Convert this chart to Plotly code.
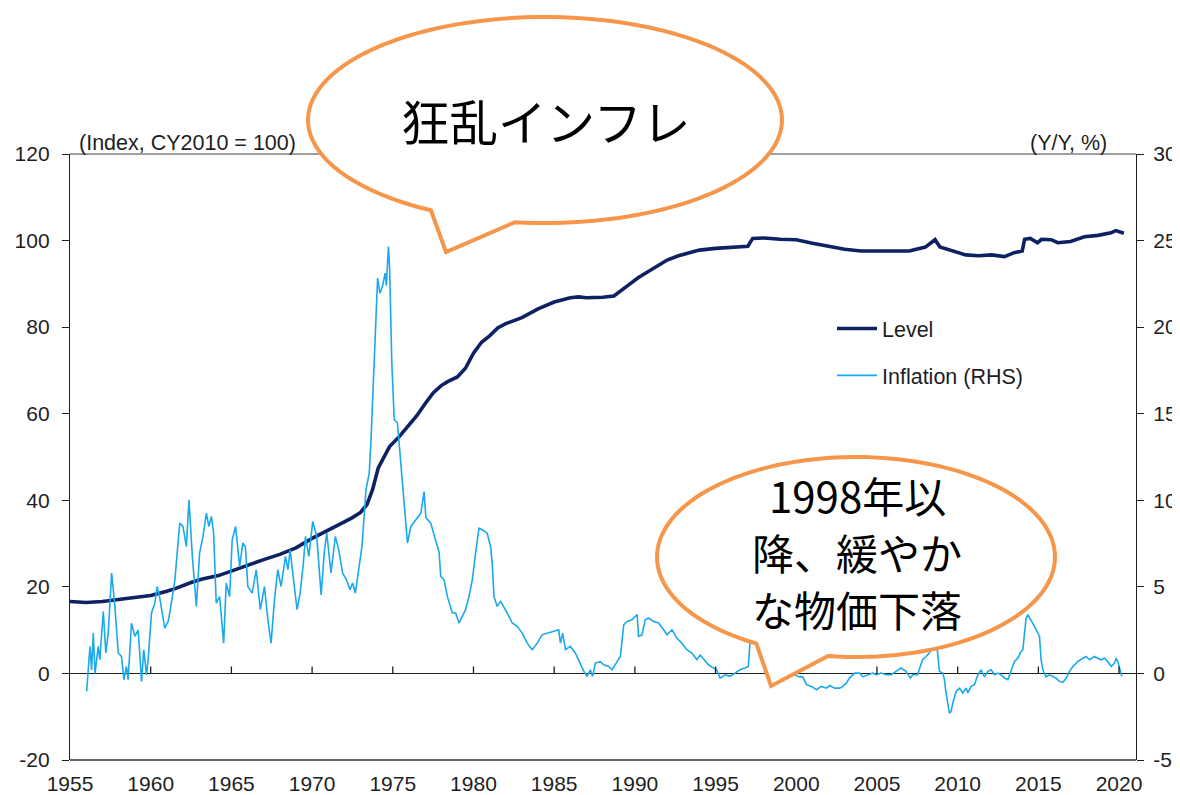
import math
import plotly.graph_objects as go

# ---------------- data ----------------
level_year = [1955.0, 1956.0, 1957.0, 1958.0, 1958.9, 1960.0, 1961.0, 1961.6, 1962.5, 1963.2,
              1964.2, 1965.2, 1966.0, 1967.0, 1968.0, 1969.0, 1970.0, 1971.0, 1972.0, 1972.5,
              1973.0, 1973.4, 1973.75, 1974.1, 1974.5, 1974.8, 1975.4, 1976.0, 1976.5, 1977.0,
              1977.5, 1978.0, 1978.4, 1979.0, 1979.5, 1980.0, 1980.5, 1981.0, 1981.5, 1982.0,
              1983.0, 1984.0, 1985.0, 1986.0, 1986.5, 1987.0, 1988.0, 1988.7, 1989.3, 1989.7,
              1990.2, 1990.7, 1991.5, 1992.0, 1992.7, 1993.3, 1994.0, 1995.0, 1996.0, 1997.0,
              1997.3, 1998.0, 1999.0, 2000.0, 2001.0, 2002.0, 2003.0, 2004.0, 2005.0, 2006.0,
              2007.0, 2008.0, 2008.6, 2008.9, 2009.7, 2010.5, 2011.3, 2012.1, 2012.9, 2013.5,
              2014.0, 2014.15, 2014.5, 2014.95, 2015.2, 2015.8, 2016.2, 2017.0, 2017.85, 2018.7,
              2019.5, 2019.8, 2020.3]
level_value = [16.6, 16.4, 16.6, 17.0, 17.4, 18.0, 19.0, 19.7, 21.0, 21.8,
               22.6, 24.0, 25.0, 26.3, 27.5, 29.0, 31.2, 33.0, 35.0, 36.0,
               37.2, 39.0, 42.5, 47.5, 50.5, 52.4, 54.7, 57.5, 59.6, 62.3,
               64.8, 66.5, 67.4, 68.5, 70.5, 74.0, 76.5, 78.0, 79.8, 80.8,
               82.2, 84.2, 85.8, 86.8, 87.0, 86.8, 86.9, 87.2, 89.0, 90.0,
               91.4, 92.6, 94.4, 95.5, 96.5, 97.2, 97.8, 98.2, 98.4, 98.7,
               100.5, 100.6, 100.3, 100.2, 99.4, 98.7, 98.0, 97.6, 97.6, 97.8,
               97.6, 98.5, 100.2, 98.5, 97.5, 96.7, 96.5, 96.7, 96.3, 97.2,
               97.6, 100.3, 100.5, 99.5, 100.3, 100.2, 99.5, 99.8, 100.9, 101.2,
               101.8, 102.3, 101.7]

infl_year = [1956.03, 1956.24, 1956.34, 1956.44, 1956.55, 1956.75, 1956.85, 1957.06, 1957.22, 1957.37,
             1957.58, 1957.78, 1957.99, 1958.19, 1958.34, 1958.5, 1958.6, 1958.81, 1959.02, 1959.22,
             1959.32, 1959.43, 1959.57, 1959.74, 1959.84, 1960.05, 1960.26, 1960.4, 1960.55, 1960.87,
             1961.08, 1961.18, 1961.49, 1961.8, 1962.0, 1962.21, 1962.37, 1962.58, 1962.83, 1963.03,
             1963.24, 1963.45, 1963.6, 1963.76, 1963.9, 1964.06, 1964.27, 1964.52, 1964.68, 1964.89,
             1965.05, 1965.26, 1965.51, 1965.71, 1965.87, 1966.02, 1966.29, 1966.54, 1966.79, 1967.05,
             1967.26, 1967.46, 1967.67, 1967.87, 1968.08, 1968.35, 1968.5, 1968.64, 1968.85, 1969.07,
             1969.26, 1969.46, 1969.59, 1969.8, 1970.04, 1970.29, 1970.56, 1970.77, 1970.91, 1971.17,
             1971.44, 1971.65, 1971.89, 1972.13, 1972.35, 1972.51, 1972.68, 1972.88, 1973.09, 1973.34,
             1973.54, 1973.65, 1973.85, 1974.06, 1974.2, 1974.36, 1974.53, 1974.6, 1974.73, 1974.8,
             1974.94, 1975.09, 1975.29, 1975.5, 1975.65, 1975.8, 1975.91, 1976.12, 1976.43, 1976.74,
             1976.94, 1977.05, 1977.35, 1977.66, 1977.87, 1977.97, 1978.18, 1978.38, 1978.69, 1978.9,
             1979.1, 1979.31, 1979.51, 1979.72, 1979.93, 1980.13, 1980.34, 1980.54, 1980.85, 1981.06,
             1981.16, 1981.27, 1981.47, 1981.68, 1981.88, 1982.09, 1982.4, 1982.71, 1983.02, 1983.33,
             1983.64, 1983.95, 1984.25, 1984.66, 1985.08, 1985.28, 1985.39, 1985.53, 1985.7, 1986.0,
             1986.31, 1986.62, 1986.83, 1987.03, 1987.24, 1987.38, 1987.55, 1987.86, 1988.07, 1988.38,
             1988.59, 1988.9, 1989.1, 1989.31, 1989.52, 1989.82, 1990.03, 1990.14, 1990.23, 1990.44,
             1990.64, 1990.85, 1991.16, 1991.47, 1991.78, 1991.99, 1992.3, 1992.6, 1992.91, 1993.22,
             1993.53, 1993.84, 1994.05, 1994.31, 1994.56, 1994.87, 1995.07, 1995.28, 1995.59, 1995.9,
             1996.2, 1996.51, 1996.82, 1997.03, 1997.13, 1997.24, 1997.6, 1998.0, 1998.25, 1998.6,
             1999.0, 1999.5, 1999.9, 2000.2, 2000.4, 2000.63, 2000.94, 2001.25, 2001.56, 2001.87,
             2002.07, 2002.38, 2002.69, 2002.89, 2003.1, 2003.3, 2003.61, 2003.92, 2004.12, 2004.43,
             2004.74, 2004.95, 2005.26, 2005.57, 2005.87, 2006.18, 2006.49, 2006.8, 2007.07, 2007.21,
             2007.52, 2007.68, 2007.83, 2008.04, 2008.24, 2008.45, 2008.6, 2008.7, 2008.87, 2009.08,
             2009.18, 2009.28, 2009.49, 2009.59, 2009.7, 2009.9, 2010.11, 2010.32, 2010.52, 2010.63,
             2010.83, 2011.04, 2011.25, 2011.45, 2011.66, 2011.87, 2012.07, 2012.28, 2012.49, 2012.69,
             2012.9, 2013.11, 2013.31, 2013.52, 2013.73, 2013.93, 2014.04, 2014.14, 2014.24, 2014.35,
             2014.55, 2014.76, 2015.07, 2015.17, 2015.28, 2015.48, 2015.69, 2015.9, 2016.1, 2016.31,
             2016.52, 2016.72, 2016.93, 2017.14, 2017.45, 2017.76, 2017.96, 2018.17, 2018.48, 2018.68,
             2018.89, 2019.1, 2019.3, 2019.51, 2019.72, 2019.82, 2019.92, 2020.03, 2020.17]
infl_value = [-1.04, 1.56, 0.2, 2.33, 0.0, 1.56, 0.79, 3.58, 1.18, 2.33,
              5.8, 3.87, 1.18, 0.98, -0.36, 0.4, -0.36, 2.9, 2.14, 2.5,
              1.18, -0.46, 1.37, -0.08, 0.79, 3.49, 4.06, 5.02, 4.44, 2.62,
              3.0, 3.49, 5.31, 8.68, 8.49, 7.33, 10.03, 6.76, 3.87, 6.95,
              7.91, 9.26, 8.49, 9.07, 8.1, 4.06, 4.44, 1.75, 5.22, 4.44,
              7.72, 8.49, 6.18, 7.53, 7.3, 5.02, 4.64, 5.99, 3.68, 5.02,
              3.1, 1.75, 4.26, 5.99, 5.02, 6.76, 5.99, 7.14, 5.41, 3.68,
              4.64, 6.37, 7.91, 6.76, 8.78, 7.91, 4.54, 7.14, 8.1, 5.8,
              7.91, 7.14, 5.8, 5.41, 4.83, 5.22, 4.64, 5.99, 7.33, 10.6,
              11.57, 13.49, 17.92, 22.83, 21.96, 22.35, 23.12, 22.4, 24.65, 23.5,
              17.92, 14.65, 14.46, 12.15, 10.5, 8.6, 7.53, 8.49, 8.9, 9.26,
              10.5, 9.0, 8.68, 7.72, 7.0, 5.6, 5.41, 4.45, 3.49, 3.49,
              2.91, 3.3, 3.68, 4.45, 5.41, 6.95, 8.39, 8.3, 8.1, 7.33,
              6.37, 4.45, 3.87, 4.16, 3.87, 3.49, 2.91, 2.72, 2.33, 1.75,
              1.37, 1.75, 2.23, 2.33, 2.43, 2.52, 1.75, 2.33, 1.37, 1.56,
              1.18, 0.5, 0.13, -0.17, 0.21, -0.17, 0.6, 0.68, 0.5, 0.4,
              0.21, 0.68, 0.98, 2.81, 3.0, 3.1, 3.3, 3.4, 2.14, 2.23,
              3.1, 3.2, 3.0, 2.91, 2.52, 2.23, 2.52, 2.04, 1.75, 1.37,
              1.18, 0.79, 1.06, 0.79, 0.5, 0.31, 0.21, -0.27, -0.08, -0.17,
              0.02, 0.21, 0.31, 0.4, 1.75, 1.85, 2.0, 1.9, 0.4, -0.1,
              0.0, -0.1, -0.08, -0.2, -0.2, -0.65, -0.75, -0.94, -0.75, -0.85,
              -0.7, -0.85, -0.85, -0.75, -0.56, -0.27, 0.02, 0.02, -0.2, -0.08,
              0.02, -0.08, 0.02, -0.08, -0.08, 0.12, 0.31, 0.12, -0.27, -0.08,
              -0.08, 0.4, 0.79, 0.98, 1.18, 1.56, 2.0, 1.75, 0.12, 0.02,
              -0.36, -1.13, -2.29, -2.2, -1.71, -1.04, -0.85, -1.13, -0.85, -1.13,
              -0.75, -0.65, -0.08, 0.21, -0.2, 0.12, 0.21, -0.08, 0.02, -0.08,
              -0.27, -0.36, 0.21, 0.69, 0.88, 1.27, 1.37, 2.33, 3.2, 3.39,
              3.1, 2.72, 2.14, 0.79, 0.21, -0.2, -0.08, -0.2, -0.27, -0.46,
              -0.52, -0.27, 0.12, 0.4, 0.69, 0.88, 0.98, 0.79, 0.98, 0.88,
              0.79, 0.88, 0.69, 0.4, 0.6, 0.88, 0.69, 0.31, -0.17]

x_tick_years = [1955, 1960, 1965, 1970, 1975, 1980, 1985, 1990, 1995, 2000, 2005, 2010, 2015, 2020]
left_ticks = [-20, 0, 20, 40, 60, 80, 100, 120]
right_ticks = [-5, 0, 5, 10, 15, 20, 25, 30]
bubble2_lines = ["1998年以", "降、緩やか", "な物価下落"]

NAVY = "#0E2263"
SKY = "#19A9EC"
ORANGE = "#F5964A"
TXT = "#1e1e1e"
LATIN = "Liberation Sans, Arial, sans-serif"
CJK = "Noto Sans CJK JP, sans-serif"

# Page layout (screen pixels); the page body adds an 8 px offset.
OFF = 8
SCREEN_W, SCREEN_H = 1180, 795
PLOT_X0, PLOT_X1, PLOT_Y0, PLOT_Y1 = 70, 1136, 154, 760
W, H = SCREEN_W - OFF, SCREEN_H - OFF
L, R = PLOT_X0 - OFF, SCREEN_W - PLOT_X1
T, B = PLOT_Y0 - OFF, SCREEN_H - PLOT_Y1
PW, PH = PLOT_X1 - PLOT_X0, PLOT_Y1 - PLOT_Y0


def px_to_paper(px, py):
    return (px - PLOT_X0) / PW, (PLOT_Y1 - py) / PH


def bubble_path(cx, cy, rx, ry, base_a, tip, base_b, n=120):
    """Speech-bubble outline (ellipse + tail) in paper coordinates, given in screen pixels."""
    ta = math.atan2((base_a[1] - cy) / ry, (base_a[0] - cx) / rx)
    tb = math.atan2((base_b[1] - cy) / ry, (base_b[0] - cx) / rx)
    end = ta - 2 * math.pi if ta > tb else ta
    pts = []
    for i in range(n + 1):
        t = tb + (end - tb) * i / n
        pts.append(px_to_paper(cx + rx * math.cos(t), cy + ry * math.sin(t)))
    pts.append(px_to_paper(*tip))
    return "M " + " L ".join(f"{x:.5f},{y:.5f}" for x, y in pts) + " Z"


fig = go.Figure()
fig.add_trace(go.Scatter(x=level_year, y=level_value, name="Level", mode="lines",
                         line=dict(color=NAVY, width=3.6), yaxis="y", legendgroup="a"))
fig.add_trace(go.Scatter(x=infl_year, y=infl_value, name="Inflation (RHS)", mode="lines",
                         line=dict(color=SKY, width=1.6), yaxis="y2", legendgroup="b"))

shapes = [
    dict(type="line", xref="paper", yref="paper", x0=0, x1=1, y0=1, y1=1,
         line=dict(color="#808080", width=1.3)),
    dict(type="line", xref="paper", yref="paper", x0=0, x1=1, y0=0, y1=0,
         line=dict(color="#333333", width=1.5)),
]
for yr in x_tick_years[1:]:
    shapes.append(dict(type="line", xref="x", yref="y", x0=yr, x1=yr, y0=0, y1=1.6,
                       line=dict(color=TXT, width=1.3)))
shapes.append(dict(type="path", xref="paper", yref="paper", layer="above",
                   path=bubble_path(545, 120, 237, 103, (430, 211), (446, 252), (515, 222)),
                   fillcolor="white", line=dict(color=ORANGE, width=4)))
shapes.append(dict(type="path", xref="paper", yref="paper", layer="above",
                   path=bubble_path(856, 557, 199, 100, (757, 643), (771, 686), (828, 656)),
                   fillcolor="white", line=dict(color=ORANGE, width=4)))

annotations = [
    dict(text="(Index, CY2010 = 100)", xref="paper", yref="paper", x=px_to_paper(77, 0)[0],
         y=px_to_paper(0, 143)[1], xanchor="left", yanchor="middle", showarrow=False,
         font=dict(family=LATIN, size=21.5, color=TXT)),
    dict(text="(Y/Y, %)", xref="paper", yref="paper", x=px_to_paper(1109, 0)[0],
         y=px_to_paper(0, 143)[1], xanchor="right", yanchor="middle", showarrow=False,
         font=dict(family=LATIN, size=21.5, color=TXT)),
    dict(text="狂乱インフレ", xref="paper", yref="paper", x=px_to_paper(546, 0)[0],
         y=px_to_paper(0, 120)[1], xanchor="center", yanchor="middle", showarrow=False,
         font=dict(family=CJK, size=48.5, color="black")),
]
for line_text, line_y in zip(bubble2_lines, [494, 551, 608]):
    annotations.append(dict(text=line_text, xref="paper", yref="paper",
                            x=px_to_paper(857, 0)[0], y=px_to_paper(0, line_y)[1],
                            xanchor="center", yanchor="middle", showarrow=False,
                            font=dict(family=CJK, size=42, color="black")))

tick_font = dict(family=LATIN, size=21, color=TXT)

fig.update_layout(
    template="none",
    width=W, height=H, autosize=False,
    margin=dict(l=L, r=R, t=T, b=B, pad=0, autoexpand=False),
    paper_bgcolor="white", plot_bgcolor="white",
    showlegend=True,
    legend=dict(x=px_to_paper(832, 0)[0], y=px_to_paper(0, 308)[1], xanchor="left",
                yanchor="top", bgcolor="rgba(0,0,0,0)", borderwidth=0, tracegroupgap=16,
                itemwidth=40, font=dict(family=LATIN, size=21.5, color=TXT)),
    xaxis=dict(range=[1955, 2021.05], tickvals=x_tick_years,
               ticktext=[str(v) for v in x_tick_years], showgrid=False, showline=False,
               zeroline=False, ticks="", ticklabelstandoff=9, automargin=False,
               tickfont=tick_font),
    yaxis=dict(range=[-20, 120], tickvals=left_ticks, ticktext=[str(v) for v in left_ticks],
               showgrid=False, showline=True, automargin=False,
               linecolor=TXT, linewidth=1.3, ticks="outside", ticklen=7,
               tickcolor=TXT, tickwidth=1.3, zeroline=True, zerolinecolor=TXT,
               zerolinewidth=1.3, ticklabelstandoff=8, tickfont=tick_font),
    yaxis2=dict(range=[-5, 30], tickvals=right_ticks, ticktext=[str(v) for v in right_ticks],
                overlaying="y", side="right", automargin=False,
                showgrid=False, showline=True, linecolor=TXT, linewidth=1.3,
                ticks="outside", ticklen=7, tickcolor=TXT, tickwidth=1.3,
                zeroline=False, ticklabelstandoff=5, tickfont=tick_font),
    shapes=shapes,
    annotations=annotations,
)

fig.write_html("out.html")
